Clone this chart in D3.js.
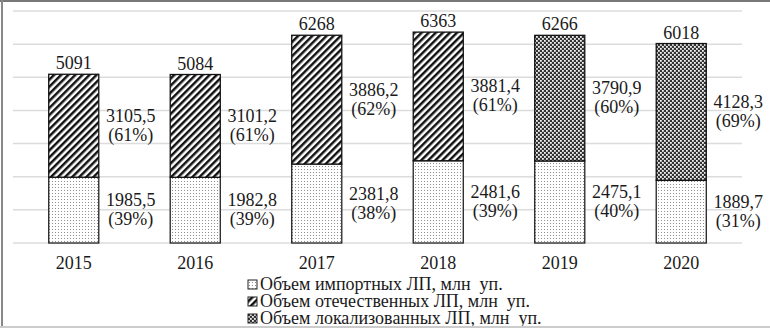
<!DOCTYPE html>
<html>
<head>
  <script src="https://d3js.org/d3.v7.min.js"></script>
  <style>
    body { margin: 0; background: #fff; }
    svg { display: block; font-family: 'Liberation Serif', 'Times New Roman', serif; }
  </style>
</head>
<body>
<div id="chart"></div>
<script>
  // data
  const years = ["2015", "2016", "2017", "2018", "2019", "2020"];
  const importVals = [1985.5, 1982.8, 2381.8, 2481.6, 2475.1, 1889.7];
  const importPct = [39, 39, 38, 39, 40, 31];
  const upperVals = [3105.5, 3101.2, 3886.2, 3881.4, 3790.9, 4128.3];
  const upperPct = [61, 61, 62, 61, 60, 69];
  // which series the upper segment belongs to
  const upperSeries = ["dom", "dom", "dom", "dom", "loc", "loc"];
  const totals = [5091, 5084, 6268, 6363, 6266, 6018];
  const yTicks = [0, 1000, 2000, 3000, 4000, 5000, 6000, 7000];
  const legendNames = [
    "Объем импортных ЛП, млн  уп.",
    "Объем отечественных ЛП, млн  уп.",
    "Объем локализованных ЛП, млн  уп."
  ];
  const legendKeys = ["imp", "dom", "loc"];

  const width = 770, height = 332;

  const svg = d3.select("#chart").append("svg")
    .attr("width", width)
    .attr("height", height);

  // patterns
  const defs = svg.append("defs");

  const pImp = defs.append("pattern").attr("id", "pat-imp")
    .attr("patternUnits", "userSpaceOnUse").attr("width", 3).attr("height", 3);
  pImp.append("rect").attr("width", 3).attr("height", 3).attr("fill", "#fff");
  pImp.append("rect").attr("x", 1).attr("y", 1).attr("width", 1).attr("height", 1).attr("fill", "#8f8f8f");

  const pDom = defs.append("pattern").attr("id", "pat-dom")
    .attr("patternUnits", "userSpaceOnUse").attr("width", 5).attr("height", 5)
    .attr("patternTransform", "rotate(45)");
  pDom.append("rect").attr("width", 5).attr("height", 5).attr("fill", "#fff");
  pDom.append("rect").attr("width", 2.5).attr("height", 5).attr("fill", "#111");

  const pLoc = defs.append("pattern").attr("id", "pat-loc")
    .attr("patternUnits", "userSpaceOnUse").attr("width", 4).attr("height", 4);
  pLoc.append("rect").attr("width", 4).attr("height", 4).attr("fill", "#333");
  pLoc.append("rect").attr("x", 0).attr("y", 0).attr("width", 1.8).attr("height", 1.8).attr("fill", "#f0f0f0");
  pLoc.append("rect").attr("x", 2).attr("y", 2).attr("width", 1.8).attr("height", 1.8).attr("fill", "#f0f0f0");

  const fillFor = { imp: "url(#pat-imp)", dom: "url(#pat-dom)", loc: "url(#pat-loc)" };

  const x = d3.scaleBand()
    .domain(years)
    .range([13, 742])
    .paddingInner(0.588)
    .paddingOuter(0.294);

  const y = d3.scaleLinear()
    .domain([0, 7000])
    .range([243, 11]);

  // gridlines
  svg.append("g").selectAll("line")
    .data(yTicks)
    .enter().append("line")
    .attr("x1", 13).attr("x2", 742)
    .attr("y1", d => y(d)).attr("y2", d => y(d))
    .attr("stroke", "#dcdcdc").attr("stroke-width", 1.5);

  const rows = years.map((yr, i) => ({
    year: yr, imp: importVals[i], up: upperVals[i], kind: upperSeries[i],
    impPct: importPct[i], upPct: upperPct[i], total: totals[i]
  }));

  const bars = svg.append("g");

  // import segment
  bars.selectAll(".imp")
    .data(rows)
    .enter().append("rect")
    .attr("class", "imp")
    .attr("x", d => x(d.year))
    .attr("width", x.bandwidth())
    .attr("y", d => y(d.imp))
    .attr("height", d => y(0) - y(d.imp))
    .attr("fill", fillFor.imp)
    .attr("stroke", "#222").attr("stroke-width", 1.3);

  // upper segment
  bars.selectAll(".up")
    .data(rows)
    .enter().append("rect")
    .attr("class", "up")
    .attr("x", d => x(d.year))
    .attr("width", x.bandwidth())
    .attr("y", d => y(d.imp + d.up))
    .attr("height", d => y(d.imp) - y(d.imp + d.up))
    .attr("fill", d => fillFor[d.kind])
    .attr("stroke", "#111").attr("stroke-width", 1.3);

  const fmt = v => String(v).replace(".", ",");
  const labX = d => x(d.year) + x.bandwidth() / 2 + 57;

  function twoLine(sel, val, pct, mid) {
    const t = sel.append("text")
      .attr("text-anchor", "middle")
      .attr("font-size", 18)
      .attr("fill", "#1a1a1a");
    t.append("tspan").attr("x", labX).attr("y", d => mid(d) - 4).text(d => fmt(val(d)));
    t.append("tspan").attr("x", labX).attr("y", d => mid(d) + 15).text(d => "(" + pct(d) + "%)");
  }

  const labels = svg.append("g");
  labels.selectAll(".lu").data(rows).enter().append("g").attr("class", "lu")
    .call(g => twoLine(g, d => d.up, d => d.upPct, d => (y(d.imp) + y(d.imp + d.up)) / 2));
  labels.selectAll(".li").data(rows).enter().append("g").attr("class", "li")
    .call(g => twoLine(g, d => d.imp, d => d.impPct, d => (y(0) + y(d.imp)) / 2));

  // totals
  labels.selectAll(".tot").data(rows).enter().append("text")
    .attr("x", d => x(d.year) + x.bandwidth() / 2)
    .attr("y", d => y(d.imp + d.up) - 5)
    .attr("text-anchor", "middle")
    .attr("font-size", 18)
    .attr("fill", "#1a1a1a")
    .text(d => d.total);

  // x axis labels
  svg.append("g").selectAll("text")
    .data(years)
    .enter().append("text")
    .attr("x", d => x(d) + x.bandwidth() / 2)
    .attr("y", 269)
    .attr("text-anchor", "middle")
    .attr("font-size", 18)
    .attr("fill", "#1a1a1a")
    .text(d => d);

  // legend
  const leg = svg.append("g").selectAll("g")
    .data(legendKeys)
    .enter().append("g")
    .attr("transform", (d, i) => `translate(248, ${290 + i * 17})`);
  leg.append("rect")
    .attr("x", 0).attr("y", -10).attr("width", 9).attr("height", 9)
    .attr("fill", d => fillFor[d])
    .attr("stroke", "#222").attr("stroke-width", 1);
  leg.append("text")
    .attr("x", 12).attr("y", 0)
    .attr("font-size", 18)
    .attr("fill", "#1a1a1a")
    .attr("xml:space", "preserve")
    .style("white-space", "pre")
    .text((d, i) => legendNames[i]);

  // frame (drawn last so the bottom edge cuts the last legend line)
  svg.append("rect").attr("x", 0).attr("y", 326).attr("width", width).attr("height", 6).attr("fill", "#fff");
  svg.append("line").attr("x1", 0).attr("x2", width).attr("y1", 1).attr("y2", 1)
    .attr("stroke", "#777").attr("stroke-width", 2);
  svg.append("line").attr("x1", 2).attr("x2", 2).attr("y1", 0).attr("y2", 327)
    .attr("stroke", "#888").attr("stroke-width", 2);
  svg.append("line").attr("x1", 0).attr("x2", width).attr("y1", 327).attr("y2", 327)
    .attr("stroke", "#ccc").attr("stroke-width", 2);
</script>
</body>
</html>
